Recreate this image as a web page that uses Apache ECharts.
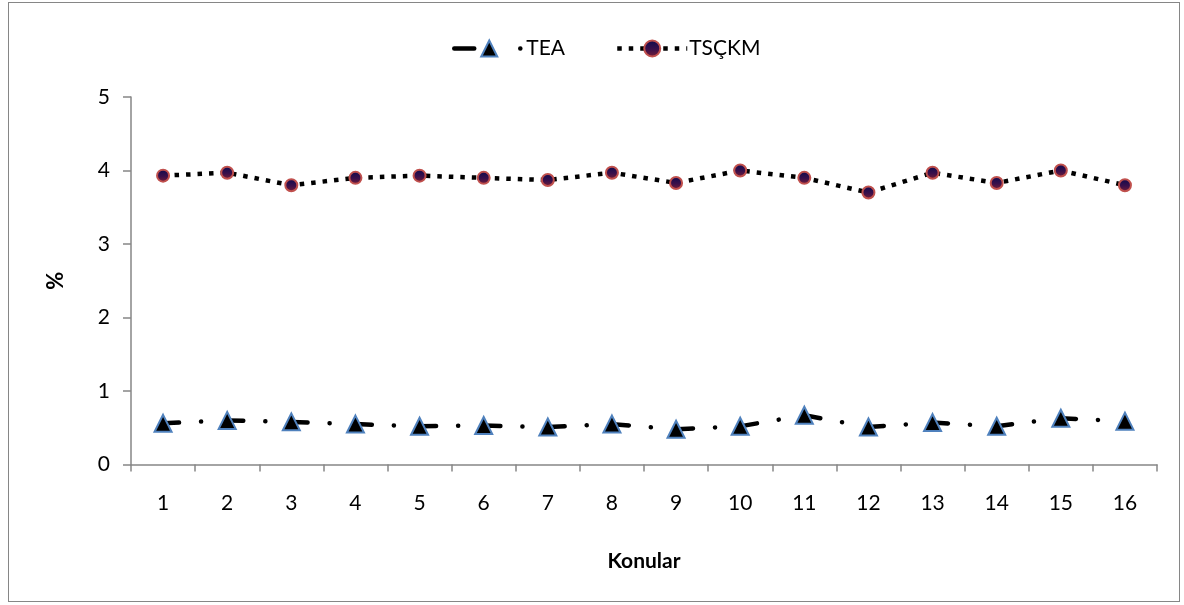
<!DOCTYPE html>
<html>
<head>
<meta charset="utf-8">
<script src="https://cdn.jsdelivr.net/npm/echarts@6/dist/echarts.min.js"></script>
<style>
  html, body { margin: 0; padding: 0; background: #fff; }
  #wrap { position: relative; width: 1184px; height: 605px; }
  #chart { position: absolute; left: 0; top: 0; width: 1184px; height: 605px; }
  #frame { position: absolute; left: 8px; top: 2px; width: 1172px; height: 600px;
           border: 1px solid #868686; box-sizing: border-box; pointer-events: none; }
</style>
</head>
<body>
<div id="wrap">
  <div id="chart"></div>
  <div id="frame"></div>
</div>
<script>
// Topics (Konular) 1..16
const categories = ['1','2','3','4','5','6','7','8','9','10','11','12','13','14','15','16'];
// TEA series (%)
const teaValues = [0.56, 0.60, 0.58, 0.55, 0.52, 0.53, 0.51, 0.55, 0.48, 0.52, 0.67, 0.51, 0.57, 0.52, 0.63, 0.59];
// TSÇKM series (%)
const tsckmValues = [3.93, 3.97, 3.80, 3.90, 3.93, 3.90, 3.87, 3.97, 3.83, 4.00, 3.90, 3.70, 3.97, 3.83, 4.00, 3.80];
const seriesNames = ['TEA', 'TSÇKM'];

const FONT = 'Lato, "Noto Sans", sans-serif';
const AXIS_GRAY = '#868686';

const chart = echarts.init(document.getElementById('chart'), null, { renderer: 'canvas' });

const circleFill = new echarts.graphic.LinearGradient(0, 0, 0, 1, [
  { offset: 0, color: '#0b0a4e' },
  { offset: 0.55, color: '#3a0f4a' },
  { offset: 1, color: '#7a1f36' }
]);

chart.setOption({
  animation: false,
  backgroundColor: '#ffffff',
  textStyle: { fontFamily: FONT, color: '#000' },
  legend: {
    left: 447,
    top: 33,
    itemWidth: 70,
    itemHeight: 20,
    itemGap: 50,
    textStyle: { fontFamily: FONT, fontSize: 21, color: '#000', padding: [0, 0, 0, -3] },
    data: [
      { name: seriesNames[0], lineStyle: { width: 4.5, type: [20, 46, 0.1, 10], cap: 'round' } },
      { name: seriesNames[1], lineStyle: { width: 4.5, type: [4.5, 7], cap: 'butt' } }
    ]
  },
  grid: { left: 131, right: 27, top: 97, bottom: 140.5, containLabel: false },
  xAxis: {
    type: 'category',
    data: categories,
    boundaryGap: true,
    name: 'Konular',
    nameLocation: 'middle',
    nameGap: 86,
    nameTextStyle: { fontFamily: FONT, fontSize: 21, fontWeight: 'bold', color: '#000' },
    axisLine: { lineStyle: { color: AXIS_GRAY, width: 1.5 } },
    axisTick: { show: true, alignWithLabel: false, length: 7, lineStyle: { color: AXIS_GRAY, width: 1.5 } },
    axisLabel: { fontFamily: FONT, fontSize: 21, color: '#000', margin: 28 },
    splitLine: { show: false }
  },
  yAxis: {
    type: 'value',
    min: 0,
    max: 5,
    interval: 1,
    name: '%',
    nameLocation: 'middle',
    nameGap: 64,
    nameRotate: 90,
    nameTextStyle: { fontFamily: FONT, fontSize: 22, fontWeight: 'bold', color: '#000' },
    axisLine: { show: true, lineStyle: { color: AXIS_GRAY, width: 1.5 } },
    axisTick: { show: true, inside: false, length: 8, lineStyle: { color: AXIS_GRAY, width: 1.5 } },
    axisLabel: { fontFamily: FONT, fontSize: 21, color: '#000', margin: 21 },
    splitLine: { show: false }
  },
  series: [
    {
      name: seriesNames[0],
      type: 'line',
      data: teaValues,
      symbol: 'triangle',
      symbolSize: 17,
      showAllSymbol: true,
      z: 3,
      lineStyle: { color: '#000', width: 4.5, type: [16, 22, 0.1, 26.2], cap: 'round' },
      itemStyle: { color: '#000', borderColor: '#4f81bd', borderWidth: 2 }
    },
    {
      name: seriesNames[1],
      type: 'line',
      data: tsckmValues,
      symbol: 'circle',
      symbolSize: 12,
      showAllSymbol: true,
      z: 2,
      lineStyle: { color: '#000', width: 4.5, type: [4.5, 7], cap: 'butt' },
      itemStyle: { color: circleFill, borderColor: '#c0504d', borderWidth: 2 }
    }
  ]
});
</script>
</body>
</html>
